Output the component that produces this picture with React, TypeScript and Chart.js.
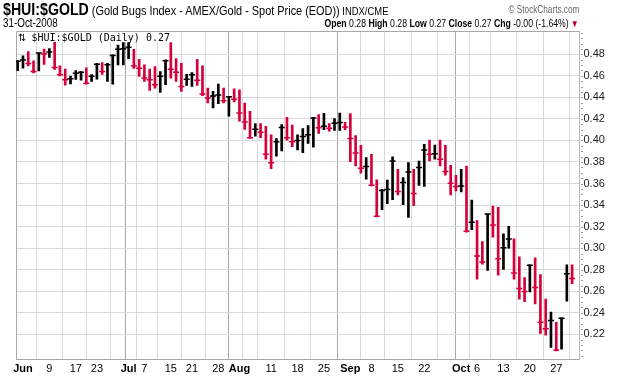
import React, { useEffect, useRef } from 'react';
import { Chart, registerables } from 'chart.js';

Chart.register(...registerables);

// Daily bars (ratio $HUI:$GOLD), 30-May-2008 .. end of Oct 2008, one entry per trading day
const highs = [
  0.4742, 0.4785, 0.4825, 0.4739, 0.4812, 0.4849, 0.4852, 0.4917, 0.4692, 0.4662,
  0.4597, 0.4649, 0.4640, 0.4674, 0.4612, 0.4717, 0.4723, 0.4717, 0.4794, 0.4886,
  0.4908, 0.4908, 0.4846, 0.4754, 0.4702, 0.4662, 0.4686, 0.4640, 0.4748, 0.4908,
  0.4760, 0.4717, 0.4615, 0.4631, 0.4754, 0.4692, 0.4486, 0.4455, 0.4523, 0.4486,
  0.4409, 0.4480, 0.4471, 0.4348, 0.4271, 0.4157, 0.4157, 0.4132, 0.4052, 0.4018,
  0.4148, 0.4215, 0.4142, 0.4052, 0.4111, 0.4139, 0.4215, 0.4240, 0.4252, 0.4157,
  0.4203, 0.4255, 0.4169, 0.4249, 0.4046, 0.3954, 0.3840, 0.3871, 0.3634, 0.3545,
  0.3631, 0.3849, 0.3732, 0.3655, 0.3794, 0.3732, 0.3809, 0.3963, 0.4003, 0.3957,
  0.4003, 0.3954, 0.3769, 0.3677, 0.3732, 0.3763, 0.3446, 0.3255, 0.3062, 0.3317,
  0.3391, 0.3379, 0.3132, 0.3203, 0.3086, 0.2920, 0.2726, 0.2846, 0.2911, 0.2754,
  0.2526, 0.2406, 0.2311, 0.2354, 0.2846, 0.2846,
];

const lows = [
  0.4649, 0.4671, 0.4692, 0.4628, 0.4646, 0.4705, 0.4772, 0.4659, 0.4600, 0.4514,
  0.4526, 0.4566, 0.4560, 0.4523, 0.4548, 0.4569, 0.4612, 0.4548, 0.4523, 0.4702,
  0.4702, 0.4760, 0.4668, 0.4594, 0.4548, 0.4465, 0.4486, 0.4446, 0.4517, 0.4579,
  0.4548, 0.4455, 0.4511, 0.4502, 0.4511, 0.4415, 0.4348, 0.4302, 0.4342, 0.4348,
  0.4225, 0.4357, 0.4179, 0.4102, 0.4018, 0.4040, 0.4025, 0.3825, 0.3739, 0.3855,
  0.3902, 0.4003, 0.3942, 0.3911, 0.3886, 0.3972, 0.3938, 0.4065, 0.4099, 0.4086,
  0.4092, 0.4092, 0.4099, 0.3803, 0.3763, 0.3695, 0.3640, 0.3578, 0.3289, 0.3357,
  0.3412, 0.3449, 0.3495, 0.3403, 0.3286, 0.3394, 0.3582, 0.3572, 0.3809, 0.3825,
  0.3763, 0.3677, 0.3495, 0.3532, 0.3523, 0.3148, 0.3172, 0.2711, 0.2852, 0.2794,
  0.3102, 0.2748, 0.2803, 0.3000, 0.2711, 0.2526, 0.2502, 0.2594, 0.2483, 0.2209,
  0.2191, 0.2077, 0.2046, 0.2062, 0.2508, 0.2671,
];

const closes = [
  0.4736, 0.4748, 0.4714, 0.4640, 0.4812, 0.4803, 0.4822, 0.4677, 0.4609, 0.4563,
  0.4572, 0.4625, 0.4634, 0.4532, 0.4597, 0.4708, 0.4640, 0.4702, 0.4788, 0.4846,
  0.4852, 0.4865, 0.4692, 0.4671, 0.4579, 0.4563, 0.4517, 0.4597, 0.4739, 0.4662,
  0.4634, 0.4502, 0.4569, 0.4609, 0.4560, 0.4431, 0.4394, 0.4412, 0.4422, 0.4369,
  0.4406, 0.4382, 0.4255, 0.4172, 0.4025, 0.4105, 0.4077, 0.3871, 0.3794, 0.3988,
  0.4120, 0.4025, 0.3988, 0.4000, 0.4037, 0.4052, 0.4209, 0.4117, 0.4132, 0.4114,
  0.4160, 0.4166, 0.4126, 0.4018, 0.3883, 0.3742, 0.3757, 0.3585, 0.3295, 0.3535,
  0.3545, 0.3809, 0.3526, 0.3609, 0.3708, 0.3508, 0.3748, 0.3911, 0.3871, 0.3877,
  0.3825, 0.3711, 0.3603, 0.3572, 0.3578, 0.3157, 0.3240, 0.2926, 0.2871, 0.3317,
  0.3215, 0.2902, 0.3003, 0.3086, 0.2769, 0.2625, 0.2597, 0.2840, 0.2634, 0.2311,
  0.2252, 0.2329, 0.2055, 0.2348, 0.2763, 0.2717,
];

// x-axis ticks: bar index -> label ('' = grid line only)
const tickIndex = [1, 6, 11, 15, 20, 21, 24, 29, 33, 38, 42, 43, 48, 53, 58, 63, 67, 72, 77, 82, 84, 87, 92, 97, 102];
const tickText = ['Jun', '9', '17', '23', '', 'Jul', '7', '15', '21', '28', 'Aug', '', '11', '18', '25', 'Sep', '8', '15', '22', '', 'Oct', '6', '13', '20', '27'];
const boldTickIndex = [1, 21, 42, 63, 84];
const monthLineIndex = [21, 42, 63, 84];
const yTickValues = [0.22, 0.24, 0.26, 0.28, 0.3, 0.32, 0.34, 0.36, 0.38, 0.4, 0.42, 0.44, 0.46, 0.48];

const RED = '#d6003c';
const BLACK = '#000000';
const SANS = "'Liberation Sans', Arial, sans-serif";

export default function App() {
  const ref = useRef<HTMLCanvasElement | null>(null);

  useEffect(() => {
    const canvas = ref.current;
    if (!canvas) return;
    const colors = closes.map((c, i) => (i > 0 && c < closes[i - 1] ? RED : BLACK));
    const lastClose = closes[closes.length - 1];

    const frame = {
      id: 'frame',
      beforeDatasetsDraw(chart: any) {
        const { ctx, chartArea: a, scales } = chart;
        ctx.save();
        ctx.strokeStyle = '#a8a8a8';
        ctx.lineWidth = 1;
        ctx.beginPath();
        ctx.moveTo(Math.round(a.left) + 0.5, Math.round(a.bottom));
        ctx.lineTo(Math.round(a.left) + 0.5, Math.round(a.top) + 0.5);
        ctx.lineTo(Math.round(a.right), Math.round(a.top) + 0.5);
        ctx.stroke();
        // small minor tick marks on the right price axis
        ctx.strokeStyle = '#9a9a9a';
        ctx.beginPath();
        const y = scales.y;
        for (let k = 0; k <= 60; k++) {
          const v = 0.2 + k * 0.005;
          if (v > y.max) break;
          const py = Math.round(y.getPixelForValue(v)) + 0.5;
          ctx.moveTo(Math.round(a.right) + 1, py);
          ctx.lineTo(Math.round(a.right) + 3, py);
        }
        ctx.stroke();
        ctx.restore();
      },
    };

    const legendBox = {
      id: 'legendBox',
      afterDatasetsDraw(chart: any) {
        const { ctx, chartArea: a } = chart;
        ctx.save();
        ctx.fillStyle = '#ffffff';
        ctx.fillRect(a.left + 1, a.top + 1, 150, 10);
        ctx.fillStyle = '#000000';
        ctx.textBaseline = 'alphabetic';
        ctx.font = '10px "DejaVu Sans"';
        ctx.fillText('\u21C5', a.left + 2, a.top + 10);
        ctx.font = '10px "DejaVu Sans Mono"';
        ctx.fillText('$HUI:$GOLD (Daily) ' + lastClose.toFixed(2), a.left + 15.5, a.top + 10);
        ctx.restore();
      },
    };

    const chart = new Chart(canvas, {
      type: 'bar',
      data: {
        datasets: [
          {
            type: 'bar',
            data: highs.map((h, i) => ({ x: i, y: [lows[i], h] })) as any,
            backgroundColor: colors,
            borderWidth: 0,
            barThickness: 2,
            grouped: false,
            order: 2,
          } as any,
          {
            type: 'line',
            data: closes.map((c, i) => ({ x: i, y: c })),
            showLine: false,
            pointStyle: 'line',
            pointRadius: 3,
            pointBorderWidth: 1.5,
            pointBorderColor: colors,
            pointBackgroundColor: colors,
            order: 1,
          } as any,
        ],
      },
      options: {
        responsive: false,
        animation: false,
        devicePixelRatio: 1,
        layout: { padding: { left: 16, top: 31, right: 0, bottom: 0 } },
        plugins: { legend: { display: false }, tooltip: { enabled: false } },
        scales: {
          x: {
            type: 'linear',
            min: -0.32,
            max: 106.4,
            offset: false,
            afterFit(scale: any) {
              scale.height = 17;
            },
            afterBuildTicks(scale: any) {
              scale.ticks = tickIndex.map((v) => ({ value: v }));
            },
            ticks: {
              autoSkip: false,
              maxRotation: 0,
              minRotation: 0,
              padding: 3,
              color: '#000',
              font: (ctx: any) => ({
                family: SANS,
                size: 11,
                weight: ctx.tick && boldTickIndex.includes(ctx.tick.value) ? 'bold' : 'normal',
              }),
              callback: (_v: any, i: number) => tickText[i],
            },
            grid: {
              drawTicks: false,
              color: (ctx: any) =>
                ctx.tick && monthLineIndex.includes(ctx.tick.value) ? '#a8a8a8' : '#d9d9d9',
              lineWidth: 1,
            },
            border: { display: true, color: '#a8a8a8' },
          },
          y: {
            type: 'linear',
            position: 'right',
            min: 0.19706,
            max: 0.50163,
            afterFit(scale: any) {
              scale.width = 40.5;
            },
            afterBuildTicks(scale: any) {
              scale.ticks = yTickValues.map((v) => ({ value: v }));
            },
            ticks: {
              padding: 4,
              color: '#222',
              font: { family: SANS, size: 11 },
              callback: (v: any) => Number(v).toFixed(2),
            },
            grid: { drawTicks: false, color: '#d9d9d9', lineWidth: 1 },
            border: { display: true, color: '#b8b8b8' },
          },
        },
      },
      plugins: [frame, legendBox],
    } as any);

    return () => chart.destroy();
  }, []);

  return (
    <div
      style={{
        position: 'fixed',
        left: 0,
        top: 0,
        width: 620,
        height: 376,
        background: '#fff',
        overflow: 'hidden',
      }}
    >
      <canvas ref={ref} width={620} height={376} style={{ position: 'absolute', left: 0, top: 0 }} />
      <div
        style={{
          position: 'absolute',
          left: 3,
          top: 0,
          whiteSpace: 'nowrap',
          fontFamily: SANS,
          lineHeight: '18px',
          color: '#000',
          transform: 'scaleX(0.82)',
          transformOrigin: 'left top',
        }}
      >
        <span style={{ fontWeight: 'bold', fontSize: 17.3 }}>$HUI:$GOLD</span>
        <span style={{ fontSize: 13.3 }}> (Gold Bugs Index - AMEX/Gold - Spot Price (EOD))</span>
        <span style={{ fontSize: 11.5 }}> INDX/CME</span>
      </div>
      <div
        style={{
          position: 'absolute',
          right: 41,
          top: 4,
          whiteSpace: 'nowrap',
          fontFamily: SANS,
          fontSize: 10,
          color: '#666',
          lineHeight: '12px',
          transform: 'scaleX(0.82)',
          transformOrigin: 'right top',
        }}
      >
        © StockCharts.com
      </div>
      <div
        style={{
          position: 'absolute',
          left: 3,
          top: 17,
          whiteSpace: 'nowrap',
          fontFamily: SANS,
          fontSize: 12,
          lineHeight: '13px',
          color: '#000',
          transform: 'scaleX(0.82)',
          transformOrigin: 'left top',
        }}
      >
        31-Oct-2008
      </div>
      <div
        style={{
          position: 'absolute',
          right: 41,
          top: 17,
          whiteSpace: 'nowrap',
          fontFamily: SANS,
          fontSize: 11.5,
          lineHeight: '13px',
          color: '#000',
          transform: 'scaleX(0.755)',
          transformOrigin: 'right top',
        }}
      >
        <b>Open</b> 0.28 <b>High</b> 0.28 <b>Low</b> 0.27 <b>Close</b> 0.27 <b>Chg</b> -0.00 (-1.64%){' '}
        <span style={{ color: '#b0002a', fontSize: 10 }}>▼</span>
      </div>
    </div>
  );
}
